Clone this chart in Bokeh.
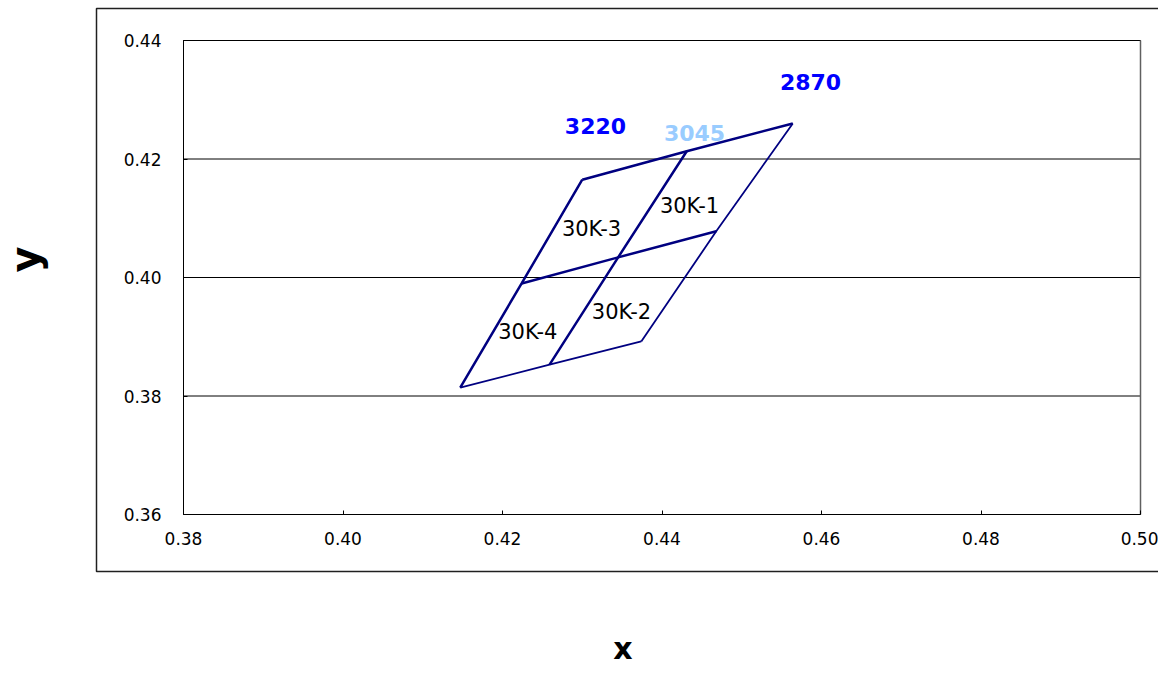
from bokeh.plotting import figure
from bokeh.models import Range1d, FixedTicker, PrintfTickFormatter, Label, LinearAxis, ColumnDataSource
from bokeh.core.properties import value
from bokeh.embed import file_html
from bokeh.resources import INLINE

# ---- data ----
cct_labels = ["3220", "3045", "2870"]
cct_label_x = [0.43166, 0.44408, 0.45862]
cct_label_y = [0.42549, 0.42447, 0.43308]
cct_label_colors = ["#0000FF", "#99CCFF", "#0000FF"]

# grid points: columns = CCT (3220, 3045, 2870), rows = top / middle / bottom
top_x = [0.4300, 0.4431, 0.4564]
top_y = [0.4165, 0.4213, 0.4260]
mid_x = [0.4224, 0.4345, 0.4468]
mid_y = [0.3990, 0.4034, 0.4078]
bot_x = [0.4147, 0.4259, 0.4374]
bot_y = [0.3814, 0.3853, 0.3892]

bin_labels = ["30K-1", "30K-2", "30K-3", "30K-4"]
bin_label_x = [0.44345, 0.43492, 0.43116, 0.42317]
bin_label_y = [0.41215, 0.39421, 0.40827, 0.39080]

x_ticks = [0.38, 0.40, 0.42, 0.44, 0.46, 0.48, 0.50]
y_ticks = [0.36, 0.38, 0.40, 0.42, 0.44]

# ---- layout (pixels on the canvas) ----
W, H = 1158, 672
X0, X1 = 0.38, 0.50
Y0, Y1 = 0.36, 0.44
PX_L, PX_R, PX_T, PX_B = 183, 1140, 40, 514
sx = (X1 - X0) / (PX_R - PX_L)   # data per pixel
sy = (Y1 - Y0) / (PX_B - PX_T)
def dx(px): return X0 + (px - PX_L) * sx
def dy(py): return Y1 - (py - PX_T) * sy

FONT = "DejaVu Sans"
NAVY = "#000080"

p = figure(width=W, height=H, output_backend="svg", toolbar_location=None,
           x_range=Range1d(dx(0), dx(W)), y_range=Range1d(dy(H), dy(0)),
           x_axis_type=None, y_axis_type=None,
           min_border_left=0, min_border_right=0, min_border_top=0, min_border_bottom=0)
p.background_fill_color = "white"
p.border_fill_color = "white"
p.outline_line_color = None

# outer chart-area box (open to the right edge as in the reference)
ox_l, ox_r, oy_t, oy_b = dx(96), dx(1180), dy(8), dy(571)
p.line([ox_r, ox_l, ox_l, ox_r], [oy_t, oy_t, oy_b, oy_b], line_color="#202020", line_width=1.5)

# horizontal gridlines at the y ticks
p.segment(x0=[X0] * len(y_ticks), x1=[X1] * len(y_ticks), y0=y_ticks, y1=y_ticks,
          line_color="black", line_width=1)
# plot-area frame
p.line([X0, X0, X1], [Y0, Y1, Y1], line_color="black", line_width=1)
p.line([X1, X1], [Y1, Y0], line_color="#606060", line_width=1.5)

# axes placed at the plot-area edges
xaxis = LinearAxis(fixed_location=Y0, bounds=(X0, X1))
yaxis = LinearAxis(fixed_location=X0, bounds=(Y0, Y1))
for ax, ticks in ((xaxis, x_ticks), (yaxis, y_ticks)):
    ax.ticker = FixedTicker(ticks=ticks)
    ax.formatter = PrintfTickFormatter(format="%.2f")
    ax.major_tick_in = 4
    ax.major_tick_out = 0
    ax.minor_tick_line_color = None
    ax.axis_line_color = "black"
    ax.axis_line_width = 1
    ax.major_tick_line_color = "black"
    ax.major_label_text_font = FONT
    ax.major_label_text_font_size = "17px"
    ax.major_label_text_color = "black"
yaxis.major_label_standoff = 22
xaxis.major_label_standoff = 17
p.add_layout(xaxis, "below")
p.add_layout(yaxis, "left")

# row lines
row_widths = [2.5, 2.5, 1.8]
for xs, ys, w in ((top_x, top_y, row_widths[0]), (mid_x, mid_y, row_widths[1]), (bot_x, bot_y, row_widths[2])):
    p.line(xs, ys, line_color=NAVY, line_width=w)
# CCT column lines
col_widths = [2.5, 2.5, 1.8]
for i in range(3):
    p.line([top_x[i], mid_x[i], bot_x[i]], [top_y[i], mid_y[i], bot_y[i]],
           line_color=NAVY, line_width=col_widths[i])

cct_src = ColumnDataSource(dict(x=cct_label_x, y=cct_label_y, t=cct_labels, c=cct_label_colors))
p.text(x="x", y="y", text="t", text_color="c", source=cct_src, text_align="center",
       text_baseline="middle", text_font=value(FONT), text_font_style="bold",
       text_font_size="22px")

bin_src = ColumnDataSource(dict(x=bin_label_x, y=bin_label_y, t=bin_labels))
p.text(x="x", y="y", text="t", source=bin_src, text_color="black", text_align="center",
       text_baseline="middle", text_font=value(FONT), text_font_size="21px")

# axis titles
p.add_layout(Label(x=dx(622.5), y=dy(648), text="x", text_align="center", text_baseline="middle",
                   text_font=FONT, text_font_style="bold", text_font_size="30px", text_color="black"))
p.add_layout(Label(x=dx(24), y=dy(259), text="y", angle=1.5707963, text_align="center",
                   text_baseline="middle", text_font=FONT, text_font_style="bold",
                   text_font_size="40px", text_color="black"))

open("out.html", "w").write(file_html(p, INLINE))
